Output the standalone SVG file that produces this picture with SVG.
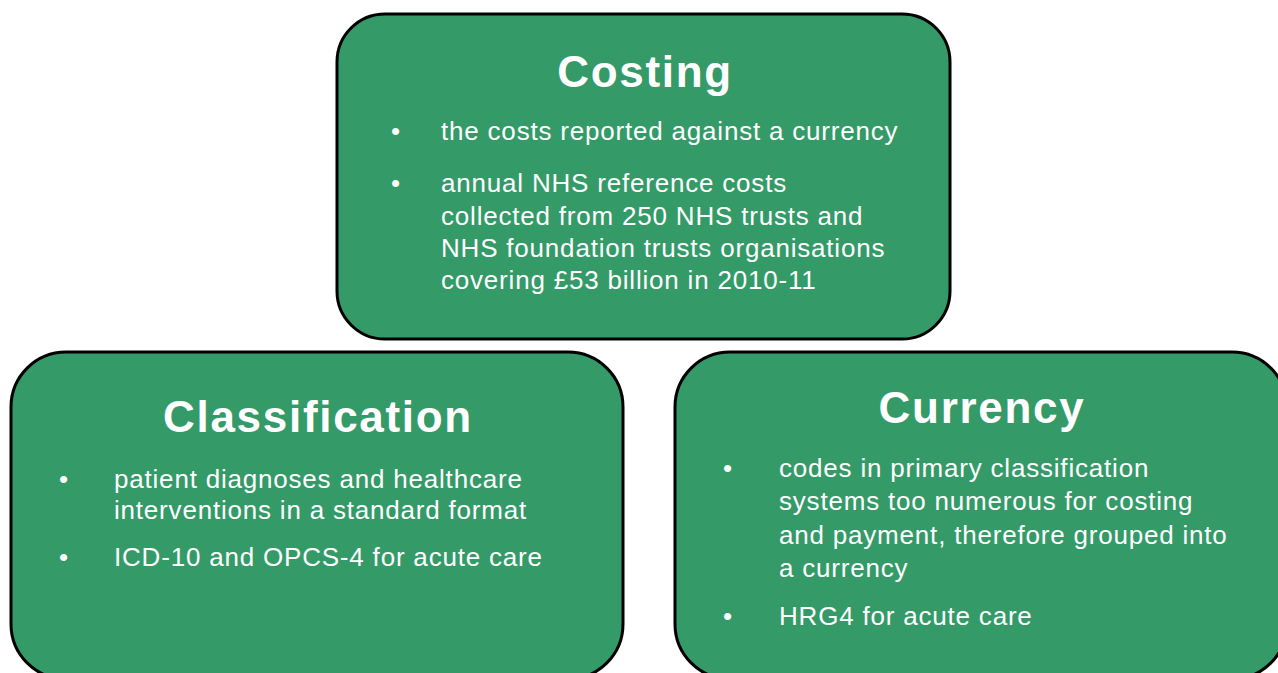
<svg xmlns="http://www.w3.org/2000/svg" width="1278" height="673" viewBox="0 0 1278 673">
<style>
.box{fill:#349a68;stroke:#000;stroke-width:3}
.title{font-family:"Liberation Sans",Arial,sans-serif;font-weight:bold;font-size:44px;letter-spacing:1.7px;fill:#fff;text-anchor:middle}
.t{font-family:"Liberation Sans",Arial,sans-serif;font-size:26px;letter-spacing:0.8px;fill:#fff}
</style>
<rect width="1278" height="673" fill="#fff"/>
<g id="costing">
<rect class="box" x="337" y="14" width="613" height="325" rx="48"/>
<text class="title" x="645" y="87">Costing</text>
<text class="t" x="391" y="140">•</text>
<text class="t" x="441" y="140">the costs reported against a currency</text>
<text class="t" x="391" y="192">•</text>
<text class="t" x="441" y="192">annual NHS reference costs</text>
<text class="t" x="441" y="225">collected from 250 NHS trusts and</text>
<text class="t" x="441" y="257">NHS foundation trusts organisations</text>
<text class="t" x="441" y="289">covering £53 billion in 2010-11</text>
</g>
<g id="classification">
<rect class="box" x="11" y="352" width="612" height="327" rx="55"/>
<text class="title" x="318" y="432">Classification</text>
<text class="t" x="59" y="488">•</text>
<text class="t" x="114" y="488">patient diagnoses and healthcare</text>
<text class="t" x="114" y="519">interventions in a standard format</text>
<text class="t" x="59" y="566">•</text>
<text class="t" x="114" y="566">ICD-10 and OPCS-4 for acute care</text>
</g>
<g id="currency">
<rect class="box" x="675" y="352" width="612" height="327" rx="55"/>
<text class="title" x="982" y="423">Currency</text>
<text class="t" x="723" y="477">•</text>
<text class="t" x="779" y="477">codes in primary classification</text>
<text class="t" x="779" y="510">systems too numerous for costing</text>
<text class="t" x="779" y="544">and payment, therefore grouped into</text>
<text class="t" x="779" y="577">a currency</text>
<text class="t" x="723" y="625">•</text>
<text class="t" x="779" y="625">HRG4 for acute care</text>
</g>
<g id="connectors"/>
</svg>
